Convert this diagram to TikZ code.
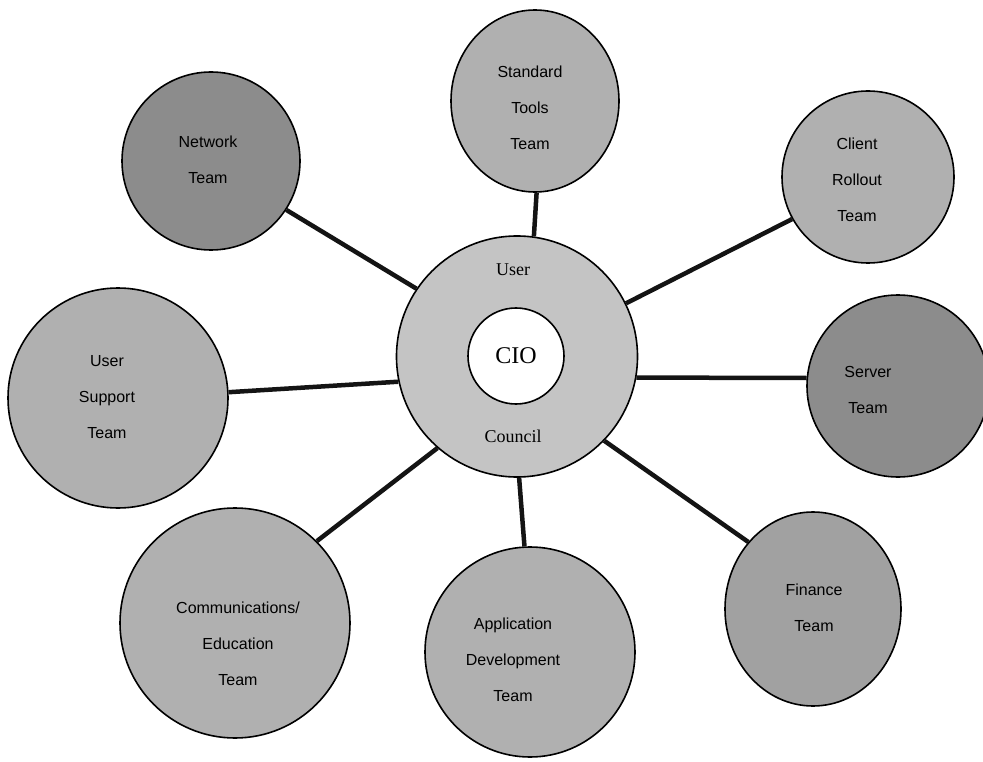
\documentclass[tikz,border=0pt]{standalone}
\usepackage{fontspec}
\setmainfont{Liberation Serif}
\newfontfamily\teamfont{Liberation Sans}
\usetikzlibrary{shapes.geometric}
\definecolor{lightfill}{gray}{0.69}
\definecolor{darkfill}{gray}{0.55}
\definecolor{midfill}{gray}{0.63}
\definecolor{ringfill}{gray}{0.77}
\tikzset{
  x=1pt, y=-1pt,
  team/.style={draw=black, line width=1.6pt, ellipse, inner sep=0pt},
  teamtext/.style={align=center, font=\teamfont\fontsize{16}{36}\selectfont},
  link/.style={line width=4.5pt, black!92},
}
\begin{document}
\begin{tikzpicture}
\useasboundingbox (0,0) rectangle (983,762);

% team circles
\node[team, fill=darkfill,  minimum width=178pt, minimum height=178pt] (net) at (211,161) {};
\node[team, fill=lightfill, minimum width=168pt, minimum height=182pt] (std) at (535,101) {};
\node[team, fill=lightfill, minimum width=172pt, minimum height=172pt] (cli) at (868,177) {};
\node[team, fill=darkfill,  minimum width=182pt, minimum height=182pt] (srv) at (898,386) {};
\node[team, fill=lightfill, minimum width=220pt, minimum height=220pt] (usr) at (118,398) {};
\node[team, fill=lightfill, minimum width=230pt, minimum height=230pt] (com) at (235,623) {};
\node[team, fill=lightfill, minimum width=210pt, minimum height=210pt] (app) at (530,652) {};
\node[team, fill=midfill,   minimum width=176pt, minimum height=194pt] (fin) at (813,609) {};

% central council ring with the CIO in the middle
\node[circle, draw=black, line width=1.6pt, fill=ringfill, inner sep=0pt, minimum size=241pt] (ctr) at (517,356.5) {};
\node[circle, draw=black, line width=1.6pt, fill=white, inner sep=0pt, minimum size=96pt] (cio) at (516,356) {\fontsize{24}{28}\selectfont CIO};
\node[font=\fontsize{18}{20}\selectfont] (ucl) at (513,270) {User};
\node[font=\fontsize{18}{20}\selectfont] (ccl) at (513,436) {Council};

% connectors from the ring to each team
\draw[link] (ctr.82.4)  -- (std.-89);
\draw[link] (ctr.26.1)  -- (cli.209.8);
\draw[link] (ctr.-10.5) -- (srv.175.6);
\draw[link] (ctr.-44.5) -- (fin.134.6);
\draw[link] (ctr.-89.5) -- (app.93.8);
\draw[link] (ctr.229.5) -- (com.45.3);
\draw[link] (ctr.192.5) -- (usr.3.1);
\draw[link] (ctr.146.9) -- (net.-33.4);

% team labels
\node[teamtext] (netT) at (208,160) {Network\\Team};
\node[teamtext] (stdT) at (530,108) {Standard\\Tools\\Team};
\node[teamtext] (cliT) at (857,180) {Client\\Rollout\\Team};
\node[teamtext] (srvT) at (868,390) {Server\\Team};
\node[teamtext] (usrT) at (107,397) {User\\Support\\Team};
\node[teamtext] (comT) at (238,644) {Communications/\\Education\\Team};
\node[teamtext] (appT) at (513,660) {Application\\Development\\Team};
\node[teamtext] (finT) at (814,608) {Finance\\Team};
\end{tikzpicture}
\end{document}
